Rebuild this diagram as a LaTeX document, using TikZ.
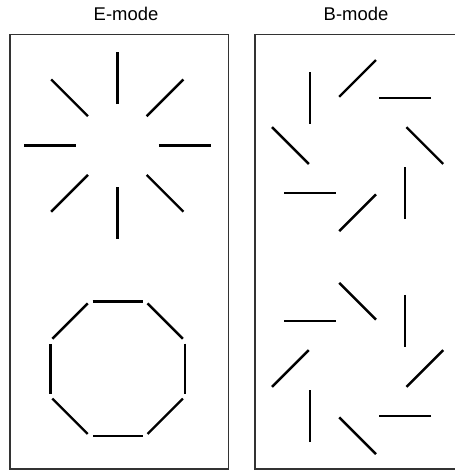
\documentclass[tikz,border=0pt]{standalone}
\usepackage{fontspec}
\setmainfont{Liberation Sans}
\begin{document}
\begin{tikzpicture}[x=1bp,y=-1bp,
  seg/.style={line width=2.4bp,black},
  frame/.style={line width=1.8bp,black!80},
  title/.style={font=\fontsize{18.5}{20}\selectfont,anchor=base,inner sep=0pt}]
\useasboundingbox (0,0) rectangle (455,472);
\clip (0,0) rectangle (455,472);
% titles
\node[title] (te) at (126,20.7) {E-mode};
\node[title] (tb) at (356,20.7) {B-mode};
% frames
\draw[frame] (9.7,34.5) rectangle (228.5,469.3);
\draw[frame] (255.3,34.5) rectangle (466,469.3);
% E-mode radial
\begin{scope}[shift={(117.3,145.6)},y=1bp]
  \foreach \a in {0,45,...,315}
    \draw[seg] (\a:41.5) -- (\a:93.5);
\end{scope}
% E-mode octagon
\begin{scope}[shift={(117.6,368.7)},y=1bp]
  \foreach \a in {0,45,...,315}
    \draw[seg] (\a:67.3) ++(\a+90:25) -- ++(\a-90:50);
\end{scope}
% B-mode top
\begin{scope}[shift={(357.6,145.6)},y=1bp]
  \foreach \a in {0,45,...,315}
    \draw[seg] (\a:67.2) ++(\a-45:26) -- ++(\a+135:52);
\end{scope}
% B-mode bottom
\begin{scope}[shift={(357.6,368.5)},y=1bp]
  \foreach \a in {0,45,...,315}
    \draw[seg] (\a:67.2) ++(\a+45:26) -- ++(\a-135:52);
\end{scope}
\end{tikzpicture}
\end{document}
